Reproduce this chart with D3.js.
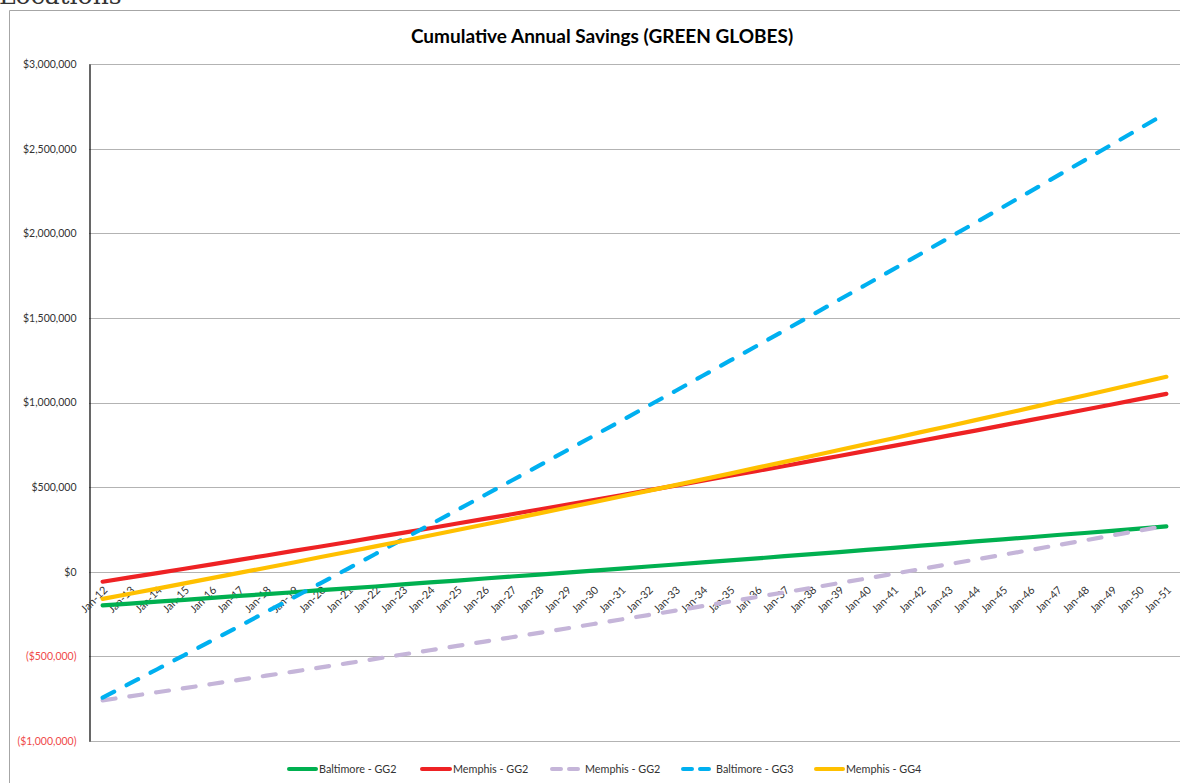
<!DOCTYPE html>
<html>
<head>
<meta charset="utf-8">
<script src="https://cdn.jsdelivr.net/npm/d3@7/dist/d3.min.js"></script>
<style>
  html, body { margin: 0; padding: 0; background: #fff; overflow: hidden; }
  svg { display: block; }
</style>
</head>
<body>
<svg id="chart" width="1180" height="783"></svg>
<script>
const categories = ["Jan-12","Jan-13","Jan-14","Jan-15","Jan-16","Jan-17","Jan-18","Jan-19","Jan-20","Jan-21",
  "Jan-22","Jan-23","Jan-24","Jan-25","Jan-26","Jan-27","Jan-28","Jan-29","Jan-30","Jan-31",
  "Jan-32","Jan-33","Jan-34","Jan-35","Jan-36","Jan-37","Jan-38","Jan-39","Jan-40","Jan-41",
  "Jan-42","Jan-43","Jan-44","Jan-45","Jan-46","Jan-47","Jan-48","Jan-49","Jan-50","Jan-51"];

const baltimoreGG2 = [-199000,-188000,-177000,-166000,-154000,-143000,-132000,-121000,-109000,-98000,
  -87000,-75000,-63000,-52000,-40000,-28000,-17000,-5000,7000,19000,
  31000,43000,55000,67000,79000,92000,104000,116000,129000,141000,
  154000,166000,179000,191000,204000,217000,229000,242000,255000,268000];

const memphisGG2 = [-59000,-33000,-8000,18000,44000,70000,96000,123000,149000,176000,
  203000,230000,257000,285000,312000,340000,368000,396000,424000,452000,
  481000,509000,538000,567000,596000,625000,655000,684000,714000,744000,
  774000,804000,834000,865000,896000,926000,957000,988000,1020000,1051000];

const memphisGG2b = [-760000,-736000,-712000,-688000,-663000,-639000,-614000,-590000,-565000,-540000,
  -515000,-489000,-464000,-438000,-413000,-387000,-361000,-335000,-309000,-282000,
  -256000,-230000,-203000,-176000,-149000,-122000,-95000,-67000,-40000,-12000,
  16000,44000,72000,100000,128000,157000,185000,214000,243000,272000];

const baltimoreGG3 = [-744000,-660000,-576000,-492000,-407000,-323000,-237000,-152000,-67000,19000,
  105000,192000,278000,365000,452000,539000,627000,715000,803000,891000,
  980000,1068000,1158000,1247000,1336000,1426000,1516000,1607000,1697000,1788000,
  1879000,1971000,2062000,2154000,2246000,2339000,2431000,2524000,2617000,2710000];

const memphisGG4 = [-160000,-130000,-100000,-69000,-38000,-7000,24000,55000,87000,118000,
  150000,182000,214000,247000,279000,312000,345000,378000,411000,445000,
  478000,512000,546000,580000,615000,649000,684000,719000,754000,789000,
  825000,860000,896000,932000,968000,1005000,1041000,1078000,1115000,1152000];

const seriesNames = ["Baltimore - GG2","Memphis - GG2","Memphis - GG2","Baltimore - GG3","Memphis - GG4"];
const seriesValues = [baltimoreGG2, memphisGG2, memphisGG2b, baltimoreGG3, memphisGG4];
const seriesColors = ["#00b050","#ee2224","#c5b5d9","#00b0f0","#ffc000"];
const seriesDashed = [false,false,true,true,false];

const yTicks = [-1000000,-500000,0,500000,1000000,1500000,2000000,2500000,3000000];

const svg = d3.select("#chart");

// outer chart frame
svg.append("path")
  .attr("d","M9.5,783 L9.5,10.5 L1180,10.5")
  .attr("fill","none").attr("stroke","#a6a6a6").attr("stroke-width",1);

// page text partly visible above the chart
svg.append("text")
  .attr("x",-1).attr("y",4)
  .attr("font-family","'DejaVu Serif', 'Liberation Serif', serif")
  .attr("font-size",25)
  .attr("fill","#333")
  .text("Locations");

// title
svg.append("text")
  .attr("x",602).attr("y",43)
  .attr("text-anchor","middle")
  .attr("font-family","Lato, 'Open Sans', sans-serif")
  .attr("font-weight","bold")
  .attr("font-size",19)
  .attr("fill","#000")
  .text("Cumulative Annual Savings (GREEN GLOBES)");

const plotLeft = 89, plotRight = 1180, plotTop = 64, plotBottom = 741;

const x = d3.scalePoint().domain(categories).range([plotLeft, plotRight]).padding(0.5);
const y = d3.scaleLinear().domain([-1000000, 3000000]).range([plotBottom, plotTop]);

const fmt = d3.format(",");
const money = d => d < 0 ? "($" + fmt(-d) + ")" : "$" + fmt(d);

// gridlines
svg.append("g").selectAll("line").data(yTicks).join("line")
  .attr("x1",plotLeft).attr("x2",plotRight)
  .attr("y1",d=>Math.round(y(d))+0.5).attr("y2",d=>Math.round(y(d))+0.5)
  .attr("stroke","#b3b3b3").attr("stroke-width",1);

// y axis
const yAxis = d3.axisLeft(y).tickValues(yTicks).tickFormat(money).tickSize(0).tickPadding(13);
const gy = svg.append("g").attr("transform",`translate(${plotLeft+0.5},0)`).call(yAxis);
gy.select(".domain").attr("stroke","#000").attr("stroke-width",1.2);
gy.selectAll("text")
  .attr("font-family","Lato, 'Open Sans', sans-serif")
  .attr("font-size",10.5)
  .attr("fill",d=> d < 0 ? "#f04a4a" : "#333");

// x axis labels at zero line
const xAxis = d3.axisBottom(x).tickSize(0).tickPadding(0);
const gx = svg.append("g").attr("transform",`translate(0,${y(0)})`).call(xAxis);
gx.select(".domain").remove();
gx.selectAll("text")
  .attr("font-family","Lato, 'Open Sans', sans-serif")
  .attr("font-size",10.8)
  .attr("fill","#333")
  .attr("text-anchor","end")
  .attr("dy",0)
  .attr("transform","translate(5,19) rotate(-45)");

// series
const line = d3.line().x((d,i)=>x(categories[i])).y(d=>y(d));
const gSeries = svg.append("g");
seriesValues.forEach((vals,k)=>{
  gSeries.append("path")
    .datum(vals)
    .attr("d",line)
    .attr("fill","none")
    .attr("stroke",seriesColors[k])
    .attr("stroke-width",4.2)
    .attr("stroke-linecap","round")
    .attr("stroke-linejoin","round")
    .attr("stroke-dasharray",seriesDashed[k] ? "13,14" : null);
});

// legend
const legendItems = [
  {x0:287, x1:318},
  {x0:420, x1:452},
  {x0:550, x1:580},
  {x0:681, x1:711},
  {x0:814, x1:845}
];
const legendY = 769;
const gl = svg.append("g");
legendItems.forEach((it,k)=>{
  gl.append("line")
    .attr("x1",it.x0+2).attr("x2",it.x1-2)
    .attr("y1",legendY).attr("y2",legendY)
    .attr("stroke",seriesColors[k]).attr("stroke-width",4)
    .attr("stroke-linecap","round")
    .attr("stroke-dasharray",seriesDashed[k] ? "9,8" : null);
  gl.append("text")
    .attr("x", seriesDashed[k] ? it.x1+5 : it.x1+1)
    .attr("y",legendY+3.5)
    .attr("font-family","Lato, 'Open Sans', sans-serif")
    .attr("font-size",10.8)
    .attr("fill","#333")
    .text(seriesNames[k]);
});
</script>
</body>
</html>
